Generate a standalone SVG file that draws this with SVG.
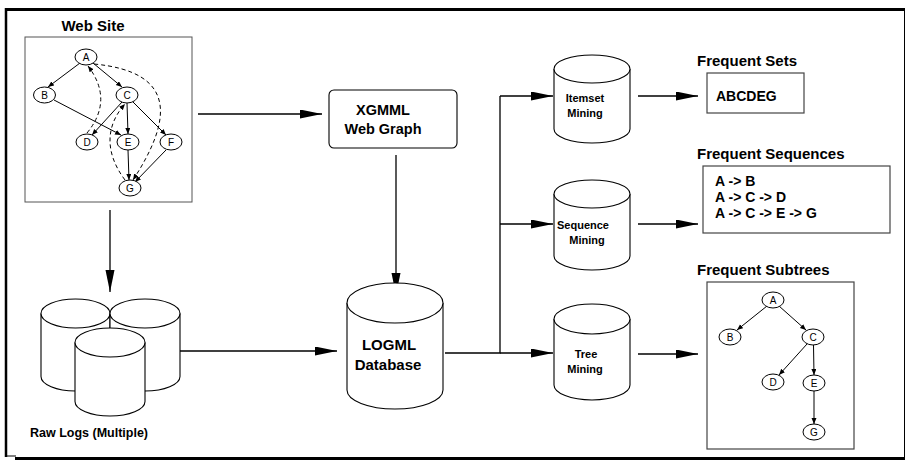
<svg xmlns="http://www.w3.org/2000/svg" width="906" height="461" viewBox="0 0 906 461">
<style>
text{font-family:"Liberation Sans",Arial,sans-serif;fill:#000}
.t{font-size:15px;font-weight:bold}
.m{font-size:11px;font-weight:bold;text-anchor:middle}
.n{font-size:10px;text-anchor:middle}
.ln{fill:none;stroke:#000;stroke-width:1.3}
.big{fill:none;stroke:#000;stroke-width:1.3;marker-end:url(#ah)}
.sm{fill:none;stroke:#000;stroke-width:1;marker-end:url(#as)}
.ds{fill:none;stroke:#000;stroke-width:1;stroke-dasharray:4 3;marker-end:url(#as)}
.cyl{fill:#fff;stroke:#000;stroke-width:1.1}
.nd{fill:#fff;stroke:#000;stroke-width:1}
.box{fill:#fff;stroke:#444;stroke-width:1.2}
</style>
<defs>
<marker id="ah" markerWidth="24" markerHeight="10" refX="22" refY="4.5" orient="auto" markerUnits="userSpaceOnUse"><path d="M0,0 L22,4.5 L0,9 Z" fill="#000"/></marker>
<marker id="as" markerWidth="8" markerHeight="6" refX="6" refY="2.5" orient="auto" markerUnits="userSpaceOnUse"><path d="M0,0 L6,2.5 L0,5 Z" fill="#000"/></marker>
</defs>
<rect width="906" height="461" fill="#fff"/>
<g id="frame">
<line x1="5" y1="9.5" x2="905" y2="9.5" stroke="#000" stroke-width="3"/>
<line x1="6" y1="8" x2="6" y2="457" stroke="#000" stroke-width="2.5"/>
<line x1="904.5" y1="9" x2="904.5" y2="458" stroke="#000" stroke-width="1"/>
<line x1="5" y1="456" x2="16" y2="456" stroke="#000" stroke-width="1"/>
<line x1="15" y1="458.5" x2="905" y2="458.5" stroke="#000" stroke-width="3"/>
</g>
<g id="web-site">
<text class="t" x="93" y="31" text-anchor="middle">Web Site</text>
<rect x="25" y="37" width="167" height="165" fill="#fff" stroke="#555" stroke-width="1"/>
<g id="ws-edges">
<line class="sm" x1="80" y1="63" x2="48" y2="87"/>
<line class="sm" x1="93" y1="63" x2="122" y2="87"/>
<line class="sm" x1="54" y1="100" x2="121" y2="135"/>
<line class="sm" x1="122" y1="102" x2="92" y2="135"/>
<line class="sm" x1="127" y1="103" x2="128" y2="134"/>
<line class="sm" x1="133" y1="102" x2="166" y2="135"/>
<line class="sm" x1="128" y1="150" x2="129" y2="180"/>
<line class="sm" x1="166" y1="150" x2="135" y2="182"/>
<path class="ds" d="M87,133 Q114,100 88,66"/>
<path class="ds" d="M94,64 C178,72 172,120 133,180"/>
<path class="ds" d="M125,180 C104,152 106,125 125,104"/>
</g>
<g id="ws-A"><ellipse class="nd" cx="86" cy="57" rx="11" ry="8"/><text class="n" x="86" y="60.5">A</text></g>
<g id="ws-B"><ellipse class="nd" cx="44.5" cy="95" rx="11" ry="8"/><text class="n" x="44.5" y="98.5">B</text></g>
<g id="ws-C"><ellipse class="nd" cx="127" cy="95" rx="11" ry="8"/><text class="n" x="127" y="98.5">C</text></g>
<g id="ws-D"><ellipse class="nd" cx="87" cy="142" rx="11" ry="8"/><text class="n" x="87" y="145.5">D</text></g>
<g id="ws-E"><ellipse class="nd" cx="128" cy="142" rx="11" ry="8"/><text class="n" x="128" y="145.5">E</text></g>
<g id="ws-F"><ellipse class="nd" cx="171" cy="142" rx="11" ry="8"/><text class="n" x="171" y="145.5">F</text></g>
<g id="ws-G"><ellipse class="nd" cx="130" cy="188" rx="11" ry="8"/><text class="n" x="130" y="191.5">G</text></g>
</g>
<g id="connectors">
<line class="big" x1="198" y1="114" x2="322" y2="114"/>
<line class="big" x1="110" y1="210" x2="110" y2="292"/>
<line class="big" x1="396" y1="155" x2="396" y2="295"/>
<line class="big" x1="174" y1="351" x2="337" y2="351"/>
<polyline class="ln" points="445,353 500,353 500,96"/>
<line class="big" x1="500" y1="96" x2="553" y2="96"/>
<line class="big" x1="500" y1="224" x2="553" y2="224"/>
<line class="big" x1="500" y1="353" x2="553" y2="353"/>
<line class="big" x1="638" y1="96" x2="698" y2="96"/>
<line class="big" x1="638" y1="224" x2="698" y2="224"/>
<line class="big" x1="638" y1="354" x2="698" y2="354"/>
</g>
<g id="raw-logs">
<path class="cyl" d="M41,313.5 L41,376.5 A34.5,14.5 0 0 0 110,376.5 L110,313.5"/>
<ellipse class="cyl" cx="75.5" cy="313.5" rx="34.5" ry="14.5"/>
<path class="cyl" d="M110,313.5 L110,376.5 A35,14.5 0 0 0 180,376.5 L180,313.5"/>
<ellipse class="cyl" cx="145" cy="313.5" rx="35" ry="14.5"/>
<path class="cyl" d="M75,342.5 L75,401.5 A35,14.5 0 0 0 145,401.5 L145,342.5"/>
<ellipse class="cyl" cx="110" cy="342.5" rx="35" ry="14.5"/>
<text class="t" x="89" y="437" text-anchor="middle" style="font-size:12.5px">Raw Logs (Multiple)</text>
</g>
<g id="xgmml">
<rect x="329" y="90" width="128" height="58" rx="5" fill="#fff" stroke="#000" stroke-width="1.1"/>
<text class="t" x="383" y="115" text-anchor="middle" style="font-size:14.5px">XGMML</text>
<text class="t" x="383" y="134" text-anchor="middle" style="font-size:14.5px">Web Graph</text>
</g>
<g id="logml">
<path class="cyl" d="M347,303 L347,390 A48,19 0 0 0 443,390 L443,303"/>
<ellipse class="cyl" cx="395" cy="303" rx="48" ry="20"/>
<text class="t" x="389" y="350" text-anchor="middle">LOGML</text>
<text class="t" x="388" y="370" text-anchor="middle">Database</text>
</g>
<g id="itemset-mining">
<path class="cyl" d="M554,69 L554,129 A38,14 0 0 0 630,129 L630,69"/>
<ellipse class="cyl" cx="592" cy="69" rx="38" ry="14"/>
<text class="m" x="585" y="102">Itemset</text>
<text class="m" x="585" y="117">Mining</text>
</g>
<g id="sequence-mining">
<path class="cyl" d="M554,194 L554,256 A38,14 0 0 0 630,256 L630,194"/>
<ellipse class="cyl" cx="592" cy="194" rx="38" ry="14"/>
<text class="m" x="583" y="229">Sequence</text>
<text class="m" x="587" y="244">Mining</text>
</g>
<g id="tree-mining">
<path class="cyl" d="M554,319 L554,385 A38,15 0 0 0 630,385 L630,319"/>
<ellipse class="cyl" cx="592" cy="319" rx="38" ry="15"/>
<text class="m" x="586" y="358">Tree</text>
<text class="m" x="585" y="373">Mining</text>
</g>
<g id="frequent-sets">
<text class="t" x="697" y="66">Frequent Sets</text>
<rect class="box" x="707" y="73" width="97" height="40"/>
<text class="t" x="716" y="101" style="font-size:14px">ABCDEG</text>
</g>
<g id="frequent-sequences">
<text class="t" x="697" y="159">Frequent Sequences</text>
<rect class="box" x="703" y="166" width="187" height="67"/>
<text class="t" x="715" y="186" style="font-size:14px">A -&gt; B</text>
<text class="t" x="715" y="202" style="font-size:14px">A -&gt; C -&gt; D</text>
<text class="t" x="715" y="218" style="font-size:14px">A -&gt; C -&gt; E -&gt; G</text>
</g>
<g id="frequent-subtrees">
<text class="t" x="697" y="275">Frequent Subtrees</text>
<rect class="box" x="707" y="282" width="147" height="167"/>
<g id="fs-edges">
<line class="sm" x1="767" y1="306" x2="737" y2="330"/>
<line class="sm" x1="779" y1="306" x2="806" y2="330"/>
<line class="sm" x1="807" y1="344" x2="779" y2="375"/>
<line class="sm" x1="813.5" y1="345" x2="814" y2="375"/>
<line class="sm" x1="814" y1="391" x2="814" y2="424"/>
</g>
<g id="fs-A"><ellipse class="nd" cx="773" cy="300" rx="11" ry="8"/><text class="n" x="773" y="303.5">A</text></g>
<g id="fs-B"><ellipse class="nd" cx="730" cy="337" rx="11" ry="8"/><text class="n" x="730" y="340.5">B</text></g>
<g id="fs-C"><ellipse class="nd" cx="813" cy="337" rx="11" ry="8"/><text class="n" x="813" y="340.5">C</text></g>
<g id="fs-D"><ellipse class="nd" cx="773" cy="382" rx="11" ry="8"/><text class="n" x="773" y="385.5">D</text></g>
<g id="fs-E"><ellipse class="nd" cx="814" cy="383" rx="11" ry="8"/><text class="n" x="814" y="386.5">E</text></g>
<g id="fs-G"><ellipse class="nd" cx="814" cy="432" rx="11" ry="8"/><text class="n" x="814" y="435.5">G</text></g>
</g>
</svg>
